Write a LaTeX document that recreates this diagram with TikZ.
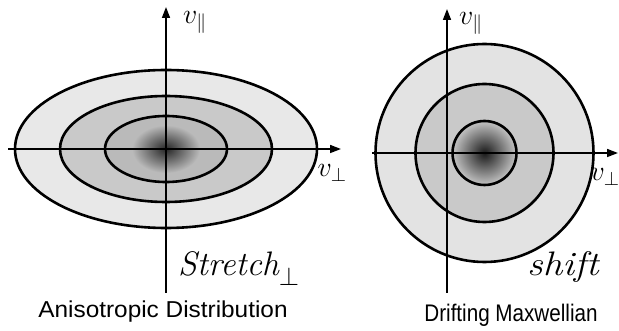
\RequirePackage{fix-cm}
\documentclass[tikz,border=0pt]{standalone}
\usepackage{graphicx}
\usepackage{fontspec}
\setsansfont{Liberation Sans}
\usetikzlibrary{arrows.meta}
\begin{document}
\begin{tikzpicture}[x=1pt,y=-1pt,
  contour/.style={draw=black,line width=2.6pt},
  axisline/.style={line width=1.6pt,-{Triangle[length=11pt,width=8pt]}},
  caption/.style={font=\sffamily\fontsize{23}{25}\selectfont,inner sep=0pt},
  vlab/.style={font=\fontsize{28}{30}\selectfont,inner sep=0pt},
  hand/.style={font=\itshape\fontsize{34}{36}\selectfont,inner sep=0pt}]
\useasboundingbox[fill=white] (0,0) rectangle (619,331);
% ---------- left: anisotropic distribution ----------
\coordinate (L) at (166,149);
\fill[black!9] (L) ellipse [x radius=151, y radius=79];
\fill[black!21] (L) ellipse [x radius=106, y radius=53];
\fill[black!27] (L) ellipse [x radius=61, y radius=33];
\shade[inner color=black!85, outer color=black!27] (L) ellipse [x radius=34, y radius=24];
\draw[contour] (L) ellipse [x radius=151, y radius=79];
\draw[contour] (L) ellipse [x radius=106, y radius=53];
\draw[contour] (L) ellipse [x radius=61, y radius=33];
\coordinate (Lxa) at (8,149);
\coordinate (Lxb) at (341,149);
\coordinate (Lya) at (166,293);
\coordinate (Lyb) at (166,7);
\draw[axisline] (Lxa) -- (Lxb);
\draw[axisline] (Lya) -- (Lyb);
\node[vlab] (Lpar) at (195,22) {$v_{\parallel}$};
\node[vlab] (Lperp) at (332,173) {$v_{\perp}$};
\node[hand,anchor=base west] (stretch) at (178,276) {Stretch\raisebox{-10pt}{\fontsize{26}{28}\selectfont$\perp$}};
\node[caption,anchor=base] (capL) at (163,318) {\scalebox{1.06}[1]{Anisotropic Distribution}};
% ---------- right: drifting Maxwellian ----------
\coordinate (R) at (484.5,153);
\fill[black!11] (R) circle [radius=109];
\fill[black!21] (R) circle [radius=69];
\fill[black!27] (R) circle [radius=32];
\shade[inner color=black!90, outer color=black!27] (R) circle [radius=30];
\draw[contour] (R) circle [radius=109];
\draw[contour] (R) circle [radius=69];
\draw[contour] (R) circle [radius=32];
\coordinate (Rxa) at (372,153);
\coordinate (Rxb) at (618,153);
\coordinate (Rya) at (447,293);
\coordinate (Ryb) at (447,9);
\draw[axisline] (Rxa) -- (Rxb);
\draw[axisline] (Rya) -- (Ryb);
\node[vlab] (Rpar) at (471,23) {$v_{\parallel}$};
\node[vlab] (Rperp) at (605,177) {$v_{\perp}$};
\node[hand,anchor=base west] (shift) at (527,276) {\scalebox{1.15}[1]{shift}};
\node[caption,anchor=base] (capR) at (511,322) {\fontsize{24}{26}\selectfont\scalebox{0.86}[1]{Drifting Maxwellian}};
\end{tikzpicture}
\end{document}
